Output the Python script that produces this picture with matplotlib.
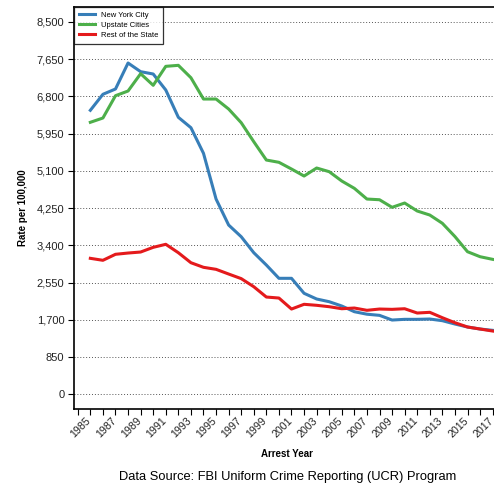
import matplotlib
matplotlib.use("Agg")
import matplotlib.pyplot as plt
from matplotlib.ticker import FuncFormatter, MultipleLocator
from matplotlib.transforms import ScaledTranslation, blended_transform_factory

plt.rcParams['font.family'] = ['Liberation Sans', 'DejaVu Sans']

years = list(range(1985, 2018))
nyc = [6481, 6846, 6967, 7560, 7362, 7309, 6944, 6321, 6084, 5499, 4456, 3863, 3596,
       3231, 2950, 2647, 2647, 2305, 2175, 2113, 2015, 1885, 1828, 1802, 1695, 1711,
       1711, 1718, 1680, 1604, 1536, 1490, 1460]
upstate = [6207, 6305, 6814, 6921, 7316, 7051, 7484, 7507, 7224, 6738, 6738, 6510, 6198,
           5764, 5346, 5294, 5141, 4981, 5164, 5080, 4867, 4700, 4456, 4440, 4267, 4365,
           4183, 4091, 3902, 3600, 3254, 3140, 3080]
rest = [3103, 3058, 3195, 3224, 3247, 3354, 3423, 3231, 3003, 2898, 2852, 2745, 2640,
        2455, 2220, 2197, 1946, 2054, 2031, 1999, 1953, 1969, 1917, 1946, 1939, 1953,
        1855, 1871, 1748, 1634, 1536, 1490, 1444]
series_names = ["New York City", "Upstate Cities", "Rest of the State"]
colors = ["#377eb8", "#4daf4a", "#e41a1c"]
yticks = [0, 850, 1700, 2550, 3400, 4250, 5100, 5950, 6800, 7650, 8500]
xticklabels = list(range(1985, 2018, 2))

fig = plt.figure(figsize=(4.94, 4.87), dpi=100)
ax = fig.add_axes([74/494, 1 - 409/487, 1 - 74/494 + 0.01, (409 - 7)/487])

for vals, name, c in zip([nyc, upstate, rest], series_names, colors):
    ax.plot(years, vals, color=c, lw=2.2, label=name)

ax.set_xlim(1983.7, 2017.5)
ax.set_ylim(-335, 8838)
ax.set_yticks(yticks)
ax.yaxis.set_major_formatter(FuncFormatter(lambda v, p: f"{int(v):,}"))
ax.set_xticks(xticklabels)
ax.set_xticklabels([])
ax.xaxis.set_minor_locator(MultipleLocator(1))
ax.tick_params(axis='x', which='both', length=4, width=0.8, direction='out')
ax.tick_params(axis='y', length=4, width=0.8, labelsize=8, pad=3, labelcolor='#222222')

trans = blended_transform_factory(ax.transData, ax.transAxes) + \
    ScaledTranslation(-1/100, -10/100, fig.dpi_scale_trans)
for yr in xticklabels:
    ax.text(yr, 0, str(yr), transform=trans, rotation=45, ha='right', va='center',
            rotation_mode='anchor', fontsize=7.7, color='#222222', clip_on=False)

ax.grid(axis='y', linestyle=(0, (1, 2)), color='#555555', lw=0.7)
ax.set_axisbelow(True)
for s in ['left', 'bottom', 'top']:
    ax.spines[s].set_linewidth(1.2)
ax.spines['right'].set_visible(False)

ax.set_xlabel("Arrest Year", fontsize=7, fontweight='bold', labelpad=21)
ax.set_ylabel("Rate per 100,000", fontsize=7, fontweight='bold', labelpad=6)

leg = ax.legend(loc='upper left', fontsize=5.5, frameon=True, fancybox=False,
                edgecolor='black', borderaxespad=0, handlelength=2.2,
                handletextpad=0.7, borderpad=0.6, labelspacing=0.35)
leg.get_frame().set_linewidth(0.9)

fig.text(288/494, 1 - 477/487, "Data Source: FBI Uniform Crime Reporting (UCR) Program",
         ha='center', va='center', fontsize=9.3)

fig.savefig("out.png", dpi=100)
